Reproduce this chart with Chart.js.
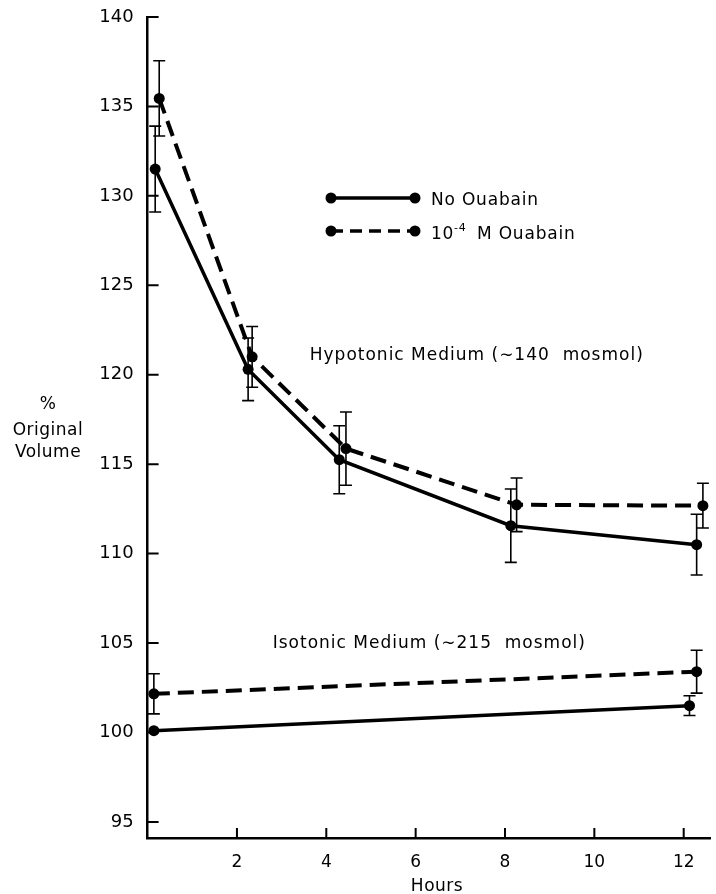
<!DOCTYPE html>
<html>
<head>
<meta charset="utf-8">
<script src="https://cdn.jsdelivr.net/npm/chart.js@4.4.1/dist/chart.umd.min.js"></script>
<style>
  html, body { margin: 0; padding: 0; background: #fff; }
  #chart { display: block; }
</style>
</head>
<body>
<canvas id="chart" width="716" height="894"></canvas>
<script>
// Hours
const hypoNoOuabainX = [0.17, 2.25, 4.29, 8.13, 12.29];
const hypoNoOuabainY = [131.5, 120.3, 115.25, 111.56, 110.5];
const hypoNoOuabainErr = [2.4, 1.75, 1.9, 2.05, 1.7];

const hypoOuabainX = [0.26, 2.34, 4.44, 8.26, 12.43];
const hypoOuabainY = [135.45, 121.0, 115.87, 112.73, 112.68];
const hypoOuabainErr = [2.1, 1.7, 2.05, 1.5, 1.25];

const isoNoOuabainX = [0.14, 12.13];
const isoNoOuabainY = [100.1, 101.5];
const isoNoOuabainErr = [0, 0.55];

const isoOuabainX = [0.14, 12.29];
const isoOuabainY = [102.16, 103.4];
const isoOuabainErr = [1.12, 1.2];

const xTicks = [2, 4, 6, 8, 10, 12];
const yTicks = [95, 100, 105, 110, 115, 120, 125, 130, 135, 140];

const FONT = '"DejaVu Sans", sans-serif';

function points(xs, ys) {
    return xs.map((x, i) => ({ x: x, y: ys[i] }));
}

function series(xs, ys, errs, dashed) {
    return {
        data: points(xs, ys),
        errors: errs,
        showLine: true,
        borderColor: '#000',
        backgroundColor: '#000',
        borderWidth: dashed ? 4 : 3.5,
        borderDash: dashed ? [16, 8] : [],
        pointRadius: 5.5,
        pointHoverRadius: 5.5,
        pointBorderWidth: 0
    };
}

// error bars with small caps
const errorBars = {
    id: 'errorBars',
    afterDatasetsDraw(chart) {
        const ctx = chart.ctx;
        const xs = chart.scales.x, ys = chart.scales.y;
        ctx.save();
        ctx.strokeStyle = '#000';
        ctx.lineWidth = 1.6;
        chart.data.datasets.forEach(ds => {
            ds.data.forEach((p, i) => {
                const e = ds.errors[i];
                if (!e) return;
                const px = xs.getPixelForValue(p.x);
                const top = ys.getPixelForValue(p.y + e);
                const bot = ys.getPixelForValue(p.y - e);
                ctx.beginPath();
                ctx.moveTo(px, top); ctx.lineTo(px, bot);
                ctx.moveTo(px - 6, top); ctx.lineTo(px + 6, top);
                ctx.moveTo(px - 6, bot); ctx.lineTo(px + 6, bot);
                ctx.stroke();
            });
        });
        ctx.restore();
    }
};

// inward tick marks, labels and legend
const decorations = {
    id: 'decorations',
    afterDraw(chart) {
        const ctx = chart.ctx;
        const xs = chart.scales.x, ys = chart.scales.y;
        const area = chart.chartArea;
        ctx.save();
        ctx.strokeStyle = '#000';
        ctx.lineWidth = 2;
        ctx.beginPath();
        yTicks.forEach(v => {
            const py = ys.getPixelForValue(v);
            ctx.moveTo(area.left, py); ctx.lineTo(area.left + 11, py);
        });
        xTicks.forEach(v => {
            const px = xs.getPixelForValue(v);
            ctx.moveTo(px, area.bottom); ctx.lineTo(px, area.bottom - 10);
        });
        ctx.stroke();

        ctx.fillStyle = '#000';
        ctx.textBaseline = 'alphabetic';
        ctx.letterSpacing = '0.5px';

        // axis titles
        ctx.font = '17px ' + FONT;
        ctx.textAlign = 'center';
        ctx.fillText('%', 48, 409);
        ctx.fillText('Original', 48, 435);
        ctx.fillText('Volume', 48, 457);
        ctx.fillText('Hours', 437, 891);

        // medium labels
        ctx.textAlign = 'left';
        ctx.letterSpacing = '1px';
        ctx.font = '17px ' + FONT;
        ctx.fillText('Hypotonic Medium (\u223C140  mosmol)', xs.getPixelForValue(3.63), ys.getPixelForValue(120.8));
        ctx.fillText('Isotonic Medium (\u223C215  mosmol)', xs.getPixelForValue(2.8), ys.getPixelForValue(104.7));

        // legend
        ctx.letterSpacing = '0.8px';
        const rows = [{ y: 198, dash: [] }, { y: 231, dash: [12, 7] }];
        rows.forEach(r => {
            ctx.setLineDash(r.dash);
            ctx.lineWidth = 3.5;
            ctx.beginPath();
            ctx.moveTo(331, r.y); ctx.lineTo(415, r.y);
            ctx.stroke();
            ctx.setLineDash([]);
            [331, 415].forEach(cx => {
                ctx.beginPath();
                ctx.arc(cx, r.y, 5.5, 0, Math.PI * 2);
                ctx.fill();
            });
        });
        ctx.font = '17px ' + FONT;
        ctx.fillText('No Ouabain', 431, 205);
        ctx.fillText('10', 431, 239);
        ctx.font = '11px ' + FONT;
        ctx.fillText('-4', 454, 231);
        ctx.font = '17px ' + FONT;
        ctx.fillText('M Ouabain', 477, 239);
        ctx.restore();
    }
};

new Chart(document.getElementById('chart'), {
    type: 'scatter',
    data: {
        datasets: [
            series(hypoNoOuabainX, hypoNoOuabainY, hypoNoOuabainErr, false),
            series(hypoOuabainX, hypoOuabainY, hypoOuabainErr, true),
            series(isoNoOuabainX, isoNoOuabainY, isoNoOuabainErr, false),
            series(isoOuabainX, isoOuabainY, isoOuabainErr, true)
        ]
    },
    options: {
        responsive: false,
        animation: false,
        layout: { padding: { top: 17, right: 5, left: 0, bottom: 0 } },
        plugins: {
            legend: { display: false },
            tooltip: { enabled: false }
        },
        scales: {
            x: {
                type: 'linear',
                min: 0,
                max: 12.6,
                afterBuildTicks: s => { s.ticks = xTicks.map(v => ({ value: v })); },
                afterFit: s => { s.height = 56; },
                grid: { display: false },
                border: { display: true, color: '#000', width: 2.5 },
                ticks: {
                    color: '#000',
                    font: { family: FONT, size: 17 },
                    padding: 6,
                    maxRotation: 0,
                    autoSkip: false
                }
            },
            y: {
                type: 'linear',
                min: 94.1,
                max: 140,
                afterBuildTicks: s => { s.ticks = yTicks.map(v => ({ value: v })); },
                afterFit: s => { s.width = 147.6; },
                grid: { display: false },
                border: { display: true, color: '#000', width: 2.5 },
                ticks: {
                    color: '#000',
                    font: { family: FONT, size: 18 },
                    padding: 6,
                    autoSkip: false
                }
            }
        }
    },
    plugins: [errorBars, decorations]
});
</script>
</body>
</html>
